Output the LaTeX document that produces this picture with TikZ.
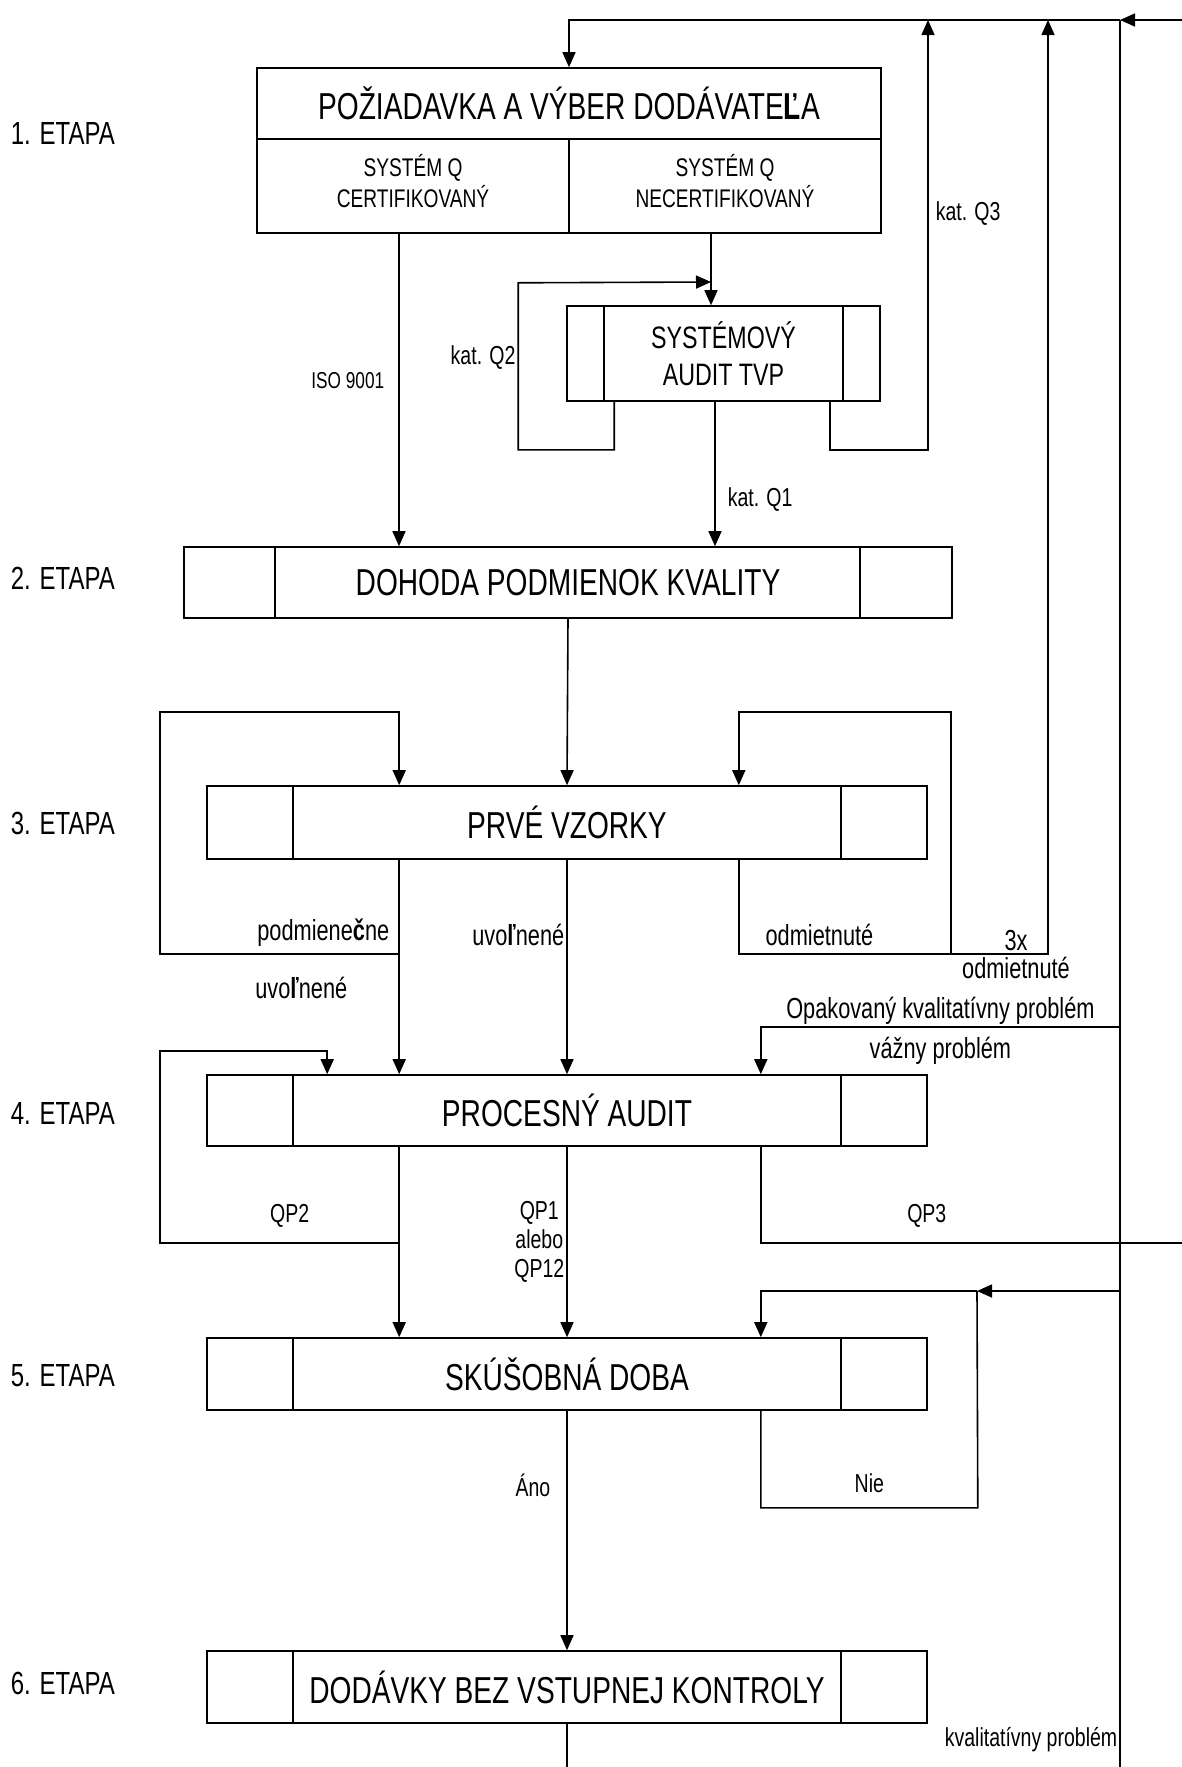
\documentclass[tikz,border=0pt]{standalone}
\usepackage{fontspec}
\setmainfont{Liberation Sans}[FakeStretch=0.75]
\usepackage{tikz}
\usetikzlibrary{arrows.meta,positioning}

\begin{document}
\begin{tikzpicture}[x=1pt, y=-1pt, line width=1.6pt, >={Triangle[width=13pt,length=15pt]},
    stage/.style={draw, rectangle, minimum width=720pt, minimum height=72pt, inner sep=0pt, font=\fontsize{37.5}{42}\selectfont},
    cell/.style={draw, rectangle, minimum width=312pt, minimum height=94pt, inner sep=0pt, align=center, font=\fontsize{25.5}{31}\selectfont},
    lbl/.style={inner sep=2pt, font=\fontsize{29}{29}\selectfont},
    slbl/.style={inner sep=2pt, font=\fontsize{26}{29}\selectfont},
    etapa/.style={anchor=west, inner sep=0pt, font=\fontsize{32}{36}\selectfont}]
    \useasboundingbox (0,0) rectangle (1182,1767);

    \node [draw, rectangle, minimum width=624pt, minimum height=71pt, font=\fontsize{37.5}{42}\selectfont] (req) at (569,103.5) {POŽIADAVKA A VÝBER DODÁVATE\textbf{Ľ}A};
    \node [cell, text depth=10pt] (cert) at (413,186) {SYSTÉM Q\\CERTIFIKOVANÝ};
    \node [cell, text depth=10pt] (necert) at (725,186) {SYSTÉM Q\\NECERTIFIKOVANÝ};
    \node [draw, rectangle, minimum width=313pt, minimum height=95pt, align=center, font=\fontsize{31}{37}\selectfont] (audit) at (723.5,353.5) {SYSTÉMOVÝ\\AUDIT TVP};
    \node [stage, minimum width=768pt, minimum height=71pt] (agree) at (568,582.5) {DOHODA PODMIENOK KVALITY};
    \node [stage, minimum height=73pt] (samples) at (567,822.5) {PRVÉ VZORKY};
    \node [stage, minimum height=71pt] (process) at (567,1110.5) {PROCESNÝ AUDIT};
    \node [stage] (trial) at (567,1374) {SKÚŠOBNÁ DOBA};
    \node [stage] (delivery) at (567,1687) {DODÁVKY BEZ VSTUPNEJ KONTROLY};

    \node [etapa] (st1) at (10,133) {1. ETAPA};
    \node [etapa] (st2) at (10,578) {2. ETAPA};
    \node [etapa] (st3) at (10,823) {3. ETAPA};
    \node [etapa] (st4) at (10,1113) {4. ETAPA};
    \node [etapa] (st5) at (10,1376) {5. ETAPA};
    \node [etapa] (st6) at (10,1683) {6. ETAPA};

    % side bars of the boxes
    \draw ([xshift=38pt]audit.north west) -- ([xshift=38pt]audit.south west);
    \draw ([xshift=-38pt]audit.north east) -- ([xshift=-38pt]audit.south east);
    \draw ([xshift=92pt]agree.north west) -- ([xshift=92pt]agree.south west);
    \draw ([xshift=-93pt]agree.north east) -- ([xshift=-93pt]agree.south east);
    \draw ([xshift=87pt]samples.north west) -- ([xshift=87pt]samples.south west);
    \draw ([xshift=-87pt]samples.north east) -- ([xshift=-87pt]samples.south east);
    \draw ([xshift=87pt]process.north west) -- ([xshift=87pt]process.south west);
    \draw ([xshift=-87pt]process.north east) -- ([xshift=-87pt]process.south east);
    \draw ([xshift=87pt]trial.north west) -- ([xshift=87pt]trial.south west);
    \draw ([xshift=-87pt]trial.north east) -- ([xshift=-87pt]trial.south east);
    \draw ([xshift=87pt]delivery.north west) -- ([xshift=87pt]delivery.south west);
    \draw ([xshift=-87pt]delivery.north east) -- ([xshift=-87pt]delivery.south east);

    \coordinate (entry) at (1182,20);
    \coordinate (trunk) at (1120,20);
    \coordinate (trunkEnd) at (1120,1767);
    \coordinate (q2in) at (711,282);
    \coordinate (q3top) at (928,20);
    \coordinate (rejtop) at (1048,20);
    \coordinate (rejR) at (951,954);
    \coordinate (condL) at (400,954);
    \coordinate (qp2L) at (400,1243);
    \coordinate (repeat) at (1120,1027);
    \coordinate (qp3out) at (1182,1243);
    \coordinate (backIn) at (1120,1291);
    \coordinate (backJoin) at (977,1291);
    \coordinate (outB) at (567,1767);

    \draw [->] (entry) -- (trunk);
    \draw [->] (trunk) -| (req.north);
    \draw (trunk) -- node[slbl, pos=0.9846, left] {kvalitatívny problém} (trunkEnd);

    % 1. etapa
    \draw [->] ([xshift=-14pt]cert.south) -- node[slbl, pos=0.47, left, xshift=-12pt, font=\fontsize{23}{26}\selectfont] {ISO 9001} ([xshift=-14pt]cert.south |- agree.north);
    \draw [->] ([xshift=-14pt]necert.south) -- ([xshift=-14pt]necert.south |- audit.north);
    \draw [->] ([xshift=48pt]audit.south west) -- ++(0,48) -| node[slbl, pos=0.775, left] {kat. Q2} ++(-96,-167) -- (q2in);
    \draw [->] ([xshift=-51pt]audit.south east) -- ++(0,48) -| node[slbl, pos=0.775, right, xshift=5pt] {kat. Q3} (q3top);
    \draw [->] ([xshift=-8.5pt]audit.south) -- node[slbl, pos=0.68, right, xshift=10pt] {kat. Q1} ([xshift=-8.5pt]audit.south |- agree.north);

    % 2. and 3. etapa
    \draw [->] (agree.south) -- (samples.north);
    \draw [->] ([xshift=193pt]samples.south west) -- ([xshift=193pt]process.north west);
    \draw [->] (condL) node[lbl, anchor=south east, xshift=-8pt, yshift=5pt] {podmiene\textbf{č}ne}
        node[lbl, anchor=north east, xshift=-50pt, yshift=-20pt] {uvo\textbf{ľ}nené}
        -| ++(-240,-242) -| ([xshift=193pt]samples.north west);
    \draw [->] (samples.south) -- node[lbl, pos=0.35, left] {uvo\textbf{ľ}nené} (process.north);
    \draw [->] ([xshift=-189pt]samples.south east) |- node[lbl, pos=0.69, above, yshift=5pt] {odmietnuté} (rejR) -- ++(0,-242) -| ([xshift=-189pt]samples.north east);
    \draw [->] (rejR) -| node[lbl, pos=0.335, above] {3x} node[lbl, pos=0.335, below] {odmietnuté} (rejtop);

    % 4. etapa
    \draw [->] (repeat) -| node[lbl, pos=0.25, above] {Opakovaný kvalitatívny problém} node[lbl, pos=0.25, below, yshift=-7pt] {vážny problém} ([xshift=-167pt]process.north east);
    \draw [->] ([xshift=193pt]process.south west) -- ([xshift=193pt]trial.north west);
    \draw [->] (qp2L) -| node[slbl, pos=0.23, above, yshift=13pt] {QP2} ++(-240,-192) -| ([xshift=121pt]process.north west);
    \draw [->] (process.south) -- node[slbl, left, align=center] {QP1\\alebo\\QP12} (trial.north);
    \draw ([xshift=-167pt]process.south east) |- node[slbl, pos=0.697, above, yshift=13pt] {QP3} (qp3out);

    % 5. and 6. etapa
    \draw [->] (backIn) -- (backJoin);
    \draw [->] (backJoin) -| ([xshift=-167pt]trial.north east);
    \draw ([xshift=-167pt]trial.south east) |- node[slbl, pos=0.75, above, yshift=12pt] {Nie} ++(217,97) -- (backJoin);
    \draw [->] (trial.south) -- node[slbl, pos=0.31, left, xshift=-14pt] {Áno} (delivery.north);
    \draw (delivery.south) -- (outB);
\end{tikzpicture}
\end{document}
